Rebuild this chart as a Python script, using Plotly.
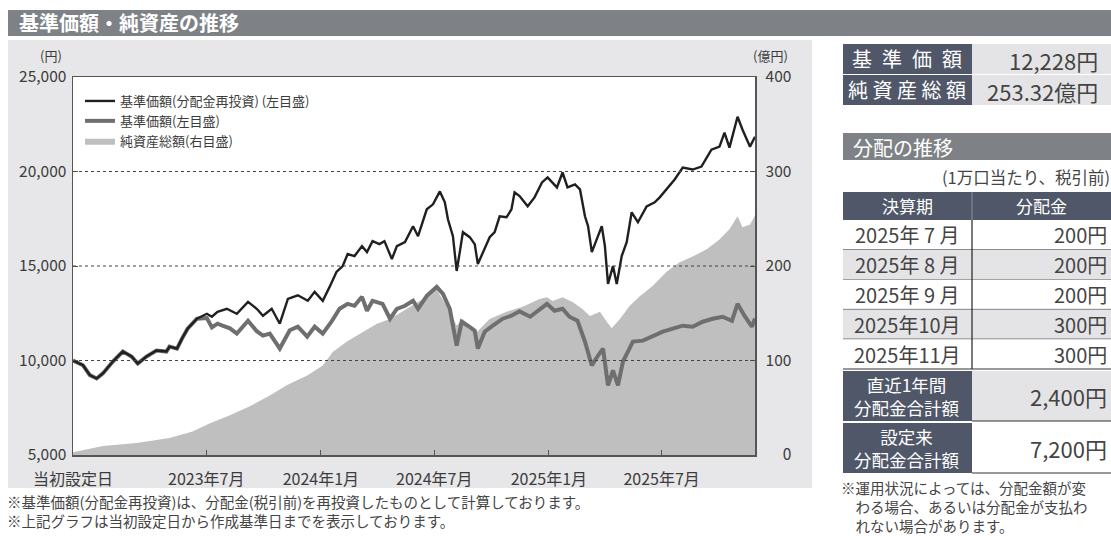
import plotly.graph_objects as go

W, H = 1111, 536
FONT = "Noto Sans CJK JP, Noto Sans, sans-serif"

# ---------------- data ----------------
reinv_dates = ["2022-11-29", "2022-12-15", "2022-12-26", "2023-01-06", "2023-01-16", "2023-02-01", "2023-02-17",
               "2023-03-03", "2023-03-13", "2023-03-27", "2023-04-12", "2023-04-28", "2023-05-03", "2023-05-15",
               "2023-05-23", "2023-06-01", "2023-06-16", "2023-07-02", "2023-07-10", "2023-07-19", "2023-08-03",
               "2023-08-19", "2023-09-06", "2023-09-20", "2023-09-30", "2023-10-14", "2023-10-27", "2023-11-09",
               "2023-11-25", "2023-12-11", "2023-12-22", "2024-01-04", "2024-01-15", "2024-01-26", "2024-02-05",
               "2024-02-13", "2024-02-24", "2024-03-07", "2024-03-15", "2024-03-24", "2024-04-04", "2024-04-12",
               "2024-04-24", "2024-05-02", "2024-05-15", "2024-05-28", "2024-06-05", "2024-06-19", "2024-06-29",
               "2024-07-10", "2024-07-18", "2024-07-23", "2024-07-31", "2024-08-06", "2024-08-11", "2024-08-16",
               "2024-08-27", "2024-09-04", "2024-09-09", "2024-09-15", "2024-09-28", "2024-10-06", "2024-10-14",
               "2024-10-25", "2024-11-02", "2024-11-07", "2024-11-15", "2024-11-28", "2024-12-09", "2024-12-21",
               "2024-12-30", "2025-01-14", "2025-01-23", "2025-01-31", "2025-02-12", "2025-02-20", "2025-02-28",
               "2025-03-05", "2025-03-11", "2025-03-19", "2025-03-27", "2025-04-01", "2025-04-06", "2025-04-14",
               "2025-04-20", "2025-04-28", "2025-05-06", "2025-05-14", "2025-05-24", "2025-06-07", "2025-06-20",
               "2025-06-28", "2025-07-09", "2025-07-22", "2025-08-04", "2025-08-20", "2025-09-03", "2025-09-19",
               "2025-10-02", "2025-10-10", "2025-10-18", "2025-10-31", "2025-11-08", "2025-11-20", "2025-11-28"]
reinv_values = [10000, 9750, 9226, 9050, 9316, 9947, 10473,
                10210, 9842, 10210, 10526, 10473, 10737, 10631,
                11158, 11684, 12210, 12473, 12315, 12579, 12736,
                12473, 13105, 12736, 12368, 12736, 11947, 13263,
                13450, 13158, 13631, 13158, 13894, 14684, 15000,
                15631, 15526, 16052, 15736, 16315, 16157, 16315,
                15368, 16052, 16263, 17105, 16578, 18000, 18263,
                18947, 18368, 17473, 16578, 14737, 15736, 16789,
                16526, 16157, 15105, 15526, 16526, 16789, 17631,
                17578, 18000, 18894, 18700, 18157, 18631, 19421,
                19684, 19157, 19947, 19157, 19315, 19052, 17631,
                17105, 15736, 16421, 17105, 16052, 14052, 15000,
                14052, 15526, 16263, 17842, 17315, 18157, 18368,
                18631, 19052, 19578, 20210, 20105, 20263, 21157,
                21315, 22052, 21263, 22894, 22210, 21315, 21842]

nav_dates = ["2022-11-29", "2022-12-15", "2022-12-26", "2023-01-06", "2023-01-16", "2023-02-01", "2023-02-17",
             "2023-03-03", "2023-03-13", "2023-03-27", "2023-04-12", "2023-04-28", "2023-05-03", "2023-05-15",
             "2023-05-23", "2023-06-01", "2023-06-16", "2023-07-02", "2023-07-10", "2023-07-19", "2023-07-27",
             "2023-08-08", "2023-08-19", "2023-09-06", "2023-09-20", "2023-09-30", "2023-10-11", "2023-10-27",
             "2023-11-12", "2023-11-25", "2023-12-10", "2023-12-22", "2024-01-04", "2024-01-18", "2024-01-31",
             "2024-02-13", "2024-02-24", "2024-03-07", "2024-03-15", "2024-03-24", "2024-04-09", "2024-04-21",
             "2024-05-02", "2024-05-15", "2024-05-28", "2024-06-05", "2024-06-19", "2024-07-05", "2024-07-15",
             "2024-07-26", "2024-08-06", "2024-08-14", "2024-08-24", "2024-09-04", "2024-09-09", "2024-09-20",
             "2024-10-03", "2024-10-19", "2024-11-02", "2024-11-15", "2024-12-02", "2024-12-14", "2024-12-29",
             "2025-01-10", "2025-01-23", "2025-02-03", "2025-02-16", "2025-02-28", "2025-03-11", "2025-03-21",
             "2025-03-29", "2025-04-06", "2025-04-14", "2025-04-22", "2025-04-30", "2025-05-08", "2025-05-16",
             "2025-06-01", "2025-06-17", "2025-07-03", "2025-07-19", "2025-08-04", "2025-08-20", "2025-09-05",
             "2025-09-21", "2025-10-07", "2025-10-22", "2025-10-31", "2025-11-11", "2025-11-23", "2025-11-28"]
nav_values = [10000, 9750, 9226, 9050, 9316, 9947, 10473,
              10210, 9842, 10210, 10526, 10473, 10737, 10631,
              11158, 11684, 12210, 12250, 11750, 11950, 11842,
              11700, 11421, 12105, 11550, 11316, 11421, 10631,
              11600, 11789, 11263, 11789, 11421, 12052, 12736,
              13000, 12894, 13368, 12631, 13158, 13000, 12210,
              12736, 12894, 13158, 12736, 13421, 13894, 13526,
              12736, 10789, 12052, 11842, 11579, 10631, 11526,
              11842, 12210, 12368, 12600, 12315, 12631, 13000,
              12631, 12736, 12315, 12105, 11000, 9736, 10263,
              10631, 8684, 9473, 8684, 9947, 10473, 11000,
              11052, 11316, 11526, 11684, 11842, 11789, 12052,
              12210, 12315, 12105, 13000, 12368, 11789, 12228]

aum_dates = ["2022-11-29", "2023-01-16", "2023-03-11", "2023-05-03", "2023-06-09", "2023-07-07", "2023-08-08",
             "2023-09-09", "2023-10-11", "2023-11-07", "2023-12-10", "2024-01-04", "2024-01-20", "2024-02-12",
             "2024-03-03", "2024-03-31", "2024-04-21", "2024-05-18", "2024-06-13", "2024-07-02", "2024-07-21",
             "2024-08-06", "2024-08-16", "2024-09-07", "2024-09-28", "2024-10-25", "2024-11-20", "2024-12-17",
             "2024-12-29", "2025-01-07", "2025-01-23", "2025-02-08", "2025-02-23", "2025-03-08", "2025-03-24",
             "2025-04-04", "2025-04-12", "2025-04-25", "2025-05-11", "2025-05-27", "2025-06-17", "2025-07-09",
             "2025-07-30", "2025-08-20", "2025-09-12", "2025-10-02", "2025-10-18", "2025-10-31", "2025-11-08",
             "2025-11-20", "2025-11-28"]
aum_values = [3, 9.5, 12.6, 17.9, 25, 33.7, 42,
              51.6, 63, 73.7, 84, 94.7, 109, 120,
              128, 139, 144, 155, 165, 178, 158,
              137, 144, 130, 144, 151.6, 157, 165,
              167, 163, 167, 162, 155, 147, 151.6,
              141, 134, 144, 158, 168, 179, 194,
              204, 210, 218, 228, 239, 252.6, 241,
              244, 253.32]

series_names = ["基準価額(分配金再投資) (左目盛)", "基準価額(左目盛)", "純資産総額(右目盛)"]

price_ticks = [5000, 10000, 15000, 20000, 25000]
price_ticktext = ["5,000", "10,000", "15,000", "20,000", "25,000"]
price_grid = [10000, 15000, 20000]
aum_ticks = [0, 100, 200, 300, 400]
aum_ticktext = ["\u2007\u20070", "100", "200", "300", "400"]
x_range = ["2022-11-29", "2025-11-28"]
x_tickvals = ["2022-11-29", "2023-07-01", "2024-01-01", "2024-07-01", "2025-01-01", "2025-07-01"]
x_ticktext = ["当初設定日", "2023年7月", "2024年1月", "2024年7月", "2025年1月", "2025年7月"]

title_text = "基準価額・純資産の推移"
summary_labels = ["基\u2002準\u2002価\u2002額", "純 資 産 総 額"]
summary_values = ["12,228円", "253.32億円"]
dist_title = "分配の推移"
dist_unit = "(1万口当たり、税引前)"
dist_header = ["決算期", "分配金"]
dist_periods = ["2025年 7 月", "2025年 8 月", "2025年 9 月", "2025年10月", "2025年11月"]
dist_amounts = ["200円", "200円", "200円", "300円", "300円"]
total_labels = ["直近1年間<br>分配金合計額", "設定来<br>分配金合計額"]
total_values = ["2,400円", "7,200円"]
chart_notes = ["※基準価額(分配金再投資)は、分配金(税引前)を再投資したものとして計算しております。",
               "※上記グラフは当初設定日から作成基準日までを表示しております。"]
table_notes = ["※運用状況によっては、分配金額が変", "　わる場合、あるいは分配金が支払わ", "　れない場合があります。"]

# ---------------- colours ----------------
C_BAR = "#7e8286"
C_PANEL = "#e7e7e9"
C_DARK = "#505769"
C_LIGHT = "#e4e4e7"
C_TEXT = "#3c3c3c"
C_AXIS = "#555555"


def px(x):
    return x / W


def py(y):
    return 1 - y / H


shapes = []
annotations = []


def rect(x0, y0, x1, y1, color, layer="below"):
    shapes.append(dict(type="rect", xref="paper", yref="paper", x0=px(x0), x1=px(x1), y0=py(y1), y1=py(y0),
                       fillcolor=color, line=dict(width=0), layer=layer))


def hline(x0, x1, y, color, width=1, layer="below"):
    shapes.append(dict(type="line", xref="paper", yref="paper", x0=px(x0), x1=px(x1), y0=py(y), y1=py(y),
                       line=dict(color=color, width=width), layer=layer))


def vline(x, y0, y1, color, width=1, layer="below"):
    shapes.append(dict(type="line", xref="paper", yref="paper", x0=px(x), x1=px(x), y0=py(y0), y1=py(y1),
                       line=dict(color=color, width=width), layer=layer))


def text(x, y, s, size, color=C_TEXT, xanchor="left", bold=False, align="center"):
    if bold:
        s = "<b>" + s + "</b>"
    annotations.append(dict(xref="paper", yref="paper", x=px(x), y=py(y), text=s, showarrow=False,
                            xanchor=xanchor, yanchor="middle", borderpad=0, align=align,
                            font=dict(family=FONT, size=size, color=color)))


# title bar & chart panel
rect(8, 10, W, 36, C_BAR)
text(18, 23, title_text, 20, "white", bold=True)
rect(8, 40, 812, 488, C_PANEL)
PL, PR, PT, PB = 73, 755, 77, 455
rect(PL, PT, PR, PB, "white")
text(63, 56, "(円)", 13, xanchor="right")
text(789, 56, "(億円)", 13, xanchor="right")
text(6, 511, "<br>".join(chart_notes), 14.5, "#444444", align="left")

# summary table
TL, TM, TR = 843, 972, W
for i, (lab, val) in enumerate(zip(summary_labels, summary_values)):
    y0 = 44 + i * 31
    y1 = y0 + 30
    rect(TL, y0, TM, y1, C_DARK)
    rect(TM, y0, TR, y1, C_LIGHT)
    text((TL + TM) / 2, (y0 + y1) / 2, lab, 20, "white", xanchor="center")
    text(1099, (y0 + y1) / 2 + 1, val, 22, "#444444", xanchor="right")

# distribution table
rect(TL, 133, TR, 160, C_BAR)
text(852, 147, dist_title, 20, "white")
text(1111, 177, dist_unit, 16.5, "#444444", xanchor="right")
HT, HB = 192, 220
rect(TL, HT, TM, HB, C_DARK)
rect(TM, HT, TR, HB, C_DARK)
vline(TM, HT, HB, "#8a8f9a", 1)
text((TL + TM) / 2, (HT + HB) / 2, dist_header[0], 17, "white", xanchor="center")
text((TM + TR) / 2, (HT + HB) / 2, dist_header[1], 17, "white", xanchor="center")
RH = 29.8
for i, (per, amt) in enumerate(zip(dist_periods, dist_amounts)):
    y0 = HB + i * RH
    y1 = y0 + RH
    rect(TL, y0, TR, y1, "white" if i % 2 == 0 else C_LIGHT)
    hline(TL, TR, y1, "#333333", 1)
    text((TL + TM) / 2, (y0 + y1) / 2, per, 20, "#444444", xanchor="center")
    text(1108, (y0 + y1) / 2, amt, 20, "#444444", xanchor="right")
rows_end = HB + len(dist_periods) * RH
vline(TM, HB, rows_end, "#222222", 1.2)
TH = 50
for i, (lab, val) in enumerate(zip(total_labels, total_values)):
    y0 = rows_end + 2 + i * (TH + 2)
    y1 = y0 + TH
    rect(TL, y0, TM, y1, C_DARK)
    rect(TM, y0, TR, y1, C_LIGHT if i == 0 else "white")
    hline(TM, TR, y1, "#333333", 1)
    text((TL + TM) / 2, (y0 + y1) / 2, lab, 17.5, "white", xanchor="center")
    text(1108, (y0 + y1) / 2, val, 22, "#444444", xanchor="right")
text(840, 506, "<br>".join(table_notes), 14.5, "#444444", align="left")

# gridlines (drawn above area, as in the original)
for g in price_grid:
    shapes.append(dict(type="line", xref="paper", yref="y2", x0=px(PL), x1=px(PR), y0=g, y1=g,
                       line=dict(color="#444444", width=1, dash="dot"), layer="above"))

fig = go.Figure()
fig.add_trace(go.Scatter(x=aum_dates, y=aum_values, name=series_names[2], mode="lines", yaxis="y",
                         fill="tozeroy", fillcolor="#bfbfbf", line=dict(width=0, color="#bfbfbf"),
                         legendrank=3))
fig.add_trace(go.Scatter(x=nav_dates, y=nav_values, name=series_names[1], mode="lines", yaxis="y2",
                         line=dict(color="#6f6f6f", width=4), legendrank=2))
fig.add_trace(go.Scatter(x=reinv_dates, y=reinv_values, name=series_names[0], mode="lines", yaxis="y2",
                         line=dict(color="#202020", width=2.4), legendrank=1))

axis_font = dict(family=FONT, size=15.5, color=C_TEXT)
fig.update_layout(
    width=W, height=H, autosize=False,
    margin=dict(l=0, r=0, t=0, b=0, pad=0, autoexpand=False),
    paper_bgcolor="white", plot_bgcolor="rgba(0,0,0,0)",
    hovermode=False,
    shapes=shapes, annotations=annotations,
    legend=dict(x=px(80), y=py(86), xanchor="left", yanchor="top", bgcolor="rgba(0,0,0,0)",
                font=dict(family=FONT, size=13, color=C_TEXT), tracegroupgap=0, itemwidth=30),
    xaxis=dict(type="date", domain=[px(PL), px(PR)], range=x_range, tickvals=x_tickvals, ticktext=x_ticktext,
               ticks="inside", ticklen=5, tickcolor=C_AXIS, showgrid=False, showline=True, linecolor=C_AXIS,
               linewidth=1.5, mirror=True, tickfont=dict(family=FONT, size=16, color=C_TEXT),
               ticklabelstandoff=9, zeroline=False, automargin=False),
    yaxis=dict(domain=[py(PB), py(PT)], range=aum_ticks[::len(aum_ticks) - 1], side="right",
               tickvals=aum_ticks, ticktext=aum_ticktext, ticks="inside", ticklen=5, tickcolor=C_AXIS,
               showgrid=False, showline=True, linecolor=C_AXIS, linewidth=1.5, zeroline=False,
               tickfont=axis_font, ticklabelstandoff=6, automargin=False),
    yaxis2=dict(overlaying="y", side="left", range=[price_ticks[0], price_ticks[-1]], tickvals=price_ticks,
                ticktext=price_ticktext, ticks="inside", ticklen=5, tickcolor=C_AXIS, showgrid=False,
                showline=True, linecolor=C_AXIS, linewidth=1.5, zeroline=False, tickfont=axis_font,
                ticklabelstandoff=2, automargin=False),
)

fig.write_html("out.html", config={"displayModeBar": False, "staticPlot": True},
               post_script="document.body.style.margin='0';document.body.style.overflow='hidden';")
